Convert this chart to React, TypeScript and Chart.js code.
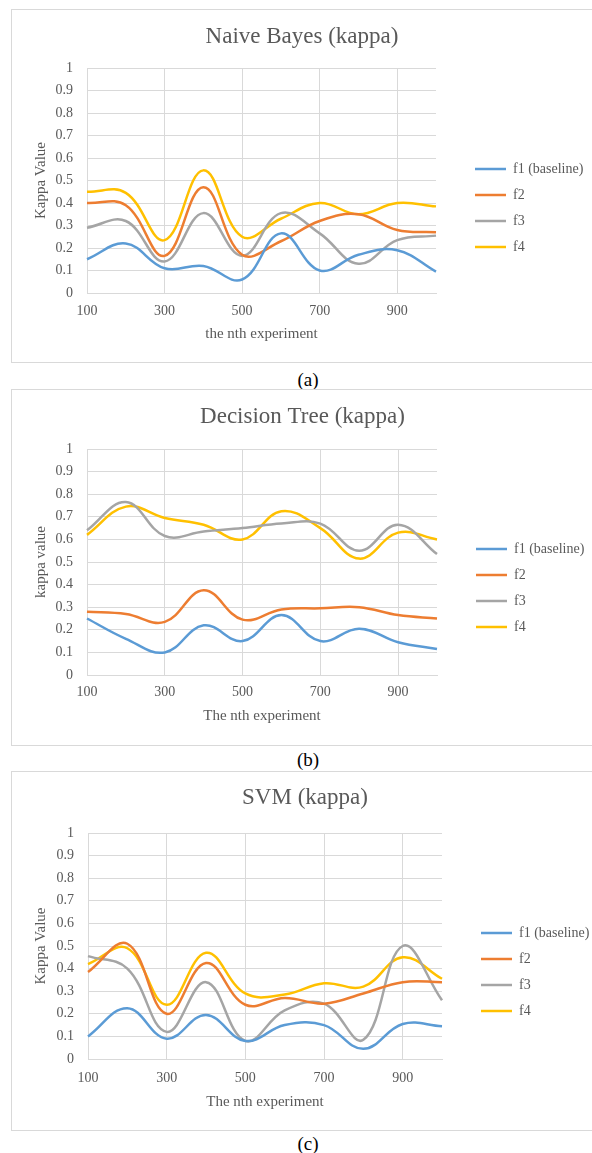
import { useEffect, useRef } from "react";
import { Chart, registerables } from "chart.js";

Chart.register(...registerables);

// ---------- data ----------
const experiments = ["100", "200", "300", "400", "500", "600", "700", "800", "900", "1000"];
const shownExperimentTicks = ["100", "300", "500", "700", "900"];
const seriesNames = ["f1 (baseline)", "f2", "f3", "f4"];
const seriesColors = ["#5B9BD5", "#ED7D31", "#A5A5A5", "#FFC000"];

// (a) Naive Bayes
const nbF1 = [0.15, 0.22, 0.11, 0.12, 0.06, 0.265, 0.1, 0.17, 0.19, 0.095];
const nbF2 = [0.4, 0.39, 0.165, 0.47, 0.17, 0.23, 0.32, 0.35, 0.28, 0.27];
const nbF3 = [0.29, 0.32, 0.14, 0.355, 0.165, 0.355, 0.265, 0.13, 0.235, 0.255];
const nbF4 = [0.45, 0.445, 0.235, 0.545, 0.25, 0.33, 0.4, 0.35, 0.4, 0.385];

// (b) Decision Tree
const dtF1 = [0.25, 0.16, 0.1, 0.22, 0.15, 0.265, 0.15, 0.205, 0.145, 0.115];
const dtF2 = [0.28, 0.27, 0.235, 0.375, 0.245, 0.29, 0.295, 0.3, 0.265, 0.25];
const dtF3 = [0.64, 0.765, 0.615, 0.635, 0.65, 0.67, 0.67, 0.55, 0.665, 0.535];
const dtF4 = [0.62, 0.745, 0.695, 0.665, 0.6, 0.725, 0.65, 0.515, 0.63, 0.6];

// (c) SVM
const svmF1 = [0.1, 0.225, 0.09, 0.195, 0.08, 0.15, 0.15, 0.045, 0.155, 0.145];
const svmF2 = [0.385, 0.51, 0.2, 0.425, 0.24, 0.27, 0.245, 0.29, 0.34, 0.34];
const svmF3 = [0.455, 0.4, 0.12, 0.34, 0.08, 0.215, 0.245, 0.085, 0.5, 0.26];
const svmF4 = [0.42, 0.49, 0.24, 0.47, 0.29, 0.285, 0.335, 0.32, 0.45, 0.355];

const chartTitles = ["Naive Bayes (kappa)", "Decision Tree (kappa)", "SVM (kappa)"];
const yAxisTitles = ["Kappa Value", "kappa value", "Kappa Value"];
const xAxisTitles = ["the nth experiment", "The nth experiment", "The nth experiment"];
const captions = ["(a)", "(b)", "(c)"];
const panelSeries = [
  [nbF1, nbF2, nbF3, nbF4],
  [dtF1, dtF2, dtF3, dtF4],
  [svmF1, svmF2, svmF3, svmF4],
];

// ---------- styling / layout ----------
const FONT = "'Liberation Serif', 'Times New Roman', serif";
const TEXT = "#595959";
const GRID = "#d9d9d9";
const CANVAS_LEFT = 11;
const CANVAS_W = 581;
const LEGEND_W = 120;
const LEGEND_PAD = 12;
const LEGEND_SIZE = 14;
const TITLE_SIZE = 23;
const AXIS_TITLE_SIZE = 15;
const TICK_SIZE = 14;
const PAD_L = 10;

type Layout = {
  boxTop: number; boxH: number;
  plotL: number; plotR: number; plotT: number; plotB: number;
  titleY: number; xTickY: number; xTitleY: number;
  legendY: number; legendX: number; yTitleX: number; captionY: number;
};

const layouts: Layout[] = [
  { boxTop: 9, boxH: 354, plotL: 87, plotR: 436, plotT: 68, plotB: 293, titleY: 37, xTickY: 311, xTitleY: 334, legendY: 169, legendX: 475, yTitleX: 41.5, captionY: 380 },
  { boxTop: 389, boxH: 357, plotL: 87, plotR: 437, plotT: 449, plotB: 675, titleY: 416.5, xTickY: 692, xTitleY: 716, legendY: 549, legendX: 476, yTitleX: 41.5, captionY: 760 },
  { boxTop: 771, boxH: 360, plotL: 88, plotR: 442, plotT: 833, plotB: 1059, titleY: 798, xTickY: 1078, xTitleY: 1102, legendY: 933, legendX: 481, yTitleX: 41.5, captionY: 1144 },
];

function buildConfig(idx: number): any {
  const L = layouts[idx];
  const cL = L.plotL - CANVAS_LEFT;
  const cR = L.plotR - CANVAS_LEFT;
  const cT = L.plotT - L.boxTop;
  const cB = L.plotB - L.boxTop;
  const titleLH = TITLE_SIZE * 1.2;
  const titlePadTop = L.titleY - L.boxTop - titleLH / 2;
  const titlePadBottom = cT - titlePadTop - titleLH;
  const axisTitleLH = AXIS_TITLE_SIZE * 1.2;
  const xAxisH = L.xTitleY - L.boxTop + axisTitleLH / 2 - cB;
  const padB = L.boxH - cB - xAxisH;
  const tickLH = TICK_SIZE * 1.2;
  const xTickPad = L.xTickY - L.boxTop - cB - tickLH / 2;
  const yTitlePad = L.yTitleX - CANVAS_LEFT - PAD_L - axisTitleLH / 2;
  const gapW = L.legendX - CANVAS_LEFT - cR - LEGEND_PAD;
  const padR = CANVAS_W - cR - gapW - LEGEND_W;
  const legendTitleH = L.legendY - L.boxTop - LEGEND_PAD - LEGEND_SIZE / 2;

  const datasets = panelSeries[idx].map((values, i) => ({
    label: seriesNames[i],
    data: values,
    borderColor: seriesColors[i],
    backgroundColor: seriesColors[i],
    borderWidth: 2.5,
    pointRadius: 0,
    pointHoverRadius: 0,
    tension: 0.4,
    fill: false,
  }));

  return {
    type: "line",
    data: { labels: experiments, datasets },
    options: {
      responsive: false,
      animation: false,
      devicePixelRatio: 1,
      layout: { padding: { left: PAD_L, right: padR, top: 0, bottom: padB } },
      plugins: {
        tooltip: { enabled: false },
        title: {
          display: true,
          text: chartTitles[idx],
          color: TEXT,
          font: { family: FONT, size: TITLE_SIZE, weight: "normal" },
          padding: { top: titlePadTop, bottom: titlePadBottom },
        },
        legend: {
          display: true,
          position: "right",
          align: "start",
          maxWidth: LEGEND_W,
          title: {
            display: true,
            text: " ",
            font: { family: FONT, size: 10 },
            padding: { top: legendTitleH - 12, bottom: 0 },
          },
          labels: {
            usePointStyle: true,
            pointStyle: "line",
            pointStyleWidth: 31,
            padding: LEGEND_PAD,
            color: TEXT,
            font: { family: FONT, size: LEGEND_SIZE },
          },
        },
      },
      scales: {
        x: {
          type: "category",
          grid: {
            color: (ctx: any) =>
              shownExperimentTicks.includes(experiments[ctx.index]) ? GRID : "rgba(0,0,0,0)",
            drawTicks: false,
          },
          border: { display: true, color: GRID },
          ticks: {
            autoSkip: false,
            maxRotation: 0,
            minRotation: 0,
            padding: xTickPad,
            color: TEXT,
            font: { family: FONT, size: TICK_SIZE },
            callback: (_v: any, i: number) =>
              shownExperimentTicks.includes(experiments[i]) ? experiments[i] : "",
          },
          title: {
            display: true,
            text: xAxisTitles[idx],
            color: TEXT,
            font: { family: FONT, size: AXIS_TITLE_SIZE },
            padding: { top: 0, bottom: 0 },
          },
          afterFit: (s: any) => {
            s.height = xAxisH;
          },
        },
        y: {
          type: "linear",
          min: 0,
          max: 1,
          ticks: {
            stepSize: 0.1,
            padding: 14,
            color: TEXT,
            font: { family: FONT, size: TICK_SIZE },
            callback: (v: any) => String(Math.round(Number(v) * 10) / 10),
          },
          grid: { color: GRID, drawTicks: false },
          border: { display: true, color: GRID },
          title: {
            display: true,
            text: yAxisTitles[idx],
            color: TEXT,
            font: { family: FONT, size: AXIS_TITLE_SIZE },
            padding: { top: yTitlePad, bottom: 0 },
          },
          afterFit: (s: any) => {
            s.width = cL - PAD_L;
          },
        },
        gap: {
          type: "linear",
          axis: "y",
          position: "right",
          display: true,
          grid: { display: false },
          border: { display: false },
          ticks: { display: false },
          afterFit: (s: any) => {
            s.width = gapW;
          },
        },
      },
    },
  };
}

function Panel({ idx }: { idx: number }) {
  const ref = useRef<HTMLCanvasElement>(null);
  const L = layouts[idx];
  useEffect(() => {
    if (!ref.current) return;
    const chart = new Chart(ref.current, buildConfig(idx));
    return () => chart.destroy();
  }, [idx]);
  return (
    <>
      <div
        style={{
          position: "absolute",
          left: CANVAS_LEFT,
          top: L.boxTop,
          width: 600,
          height: L.boxH,
          border: `1px solid ${GRID}`,
          boxSizing: "border-box",
        }}
      />
      <canvas
        ref={ref}
        width={CANVAS_W}
        height={L.boxH}
        style={{ position: "absolute", left: CANVAS_LEFT, top: L.boxTop, width: CANVAS_W, height: L.boxH }}
      />
      <div
        style={{
          position: "absolute",
          left: 208,
          width: 200,
          top: L.captionY - 11,
          height: 22,
          lineHeight: "22px",
          textAlign: "center",
          fontFamily: FONT,
          fontSize: 19,
          color: "#000",
        }}
      >
        {captions[idx]}
      </div>
    </>
  );
}

export default function App() {
  return (
    <div
      style={{
        position: "absolute",
        left: 0,
        top: 0,
        width: 592,
        height: 1153,
        overflow: "hidden",
        background: "#fff",
      }}
    >
      <Panel idx={0} />
      <Panel idx={1} />
      <Panel idx={2} />
    </div>
  );
}
